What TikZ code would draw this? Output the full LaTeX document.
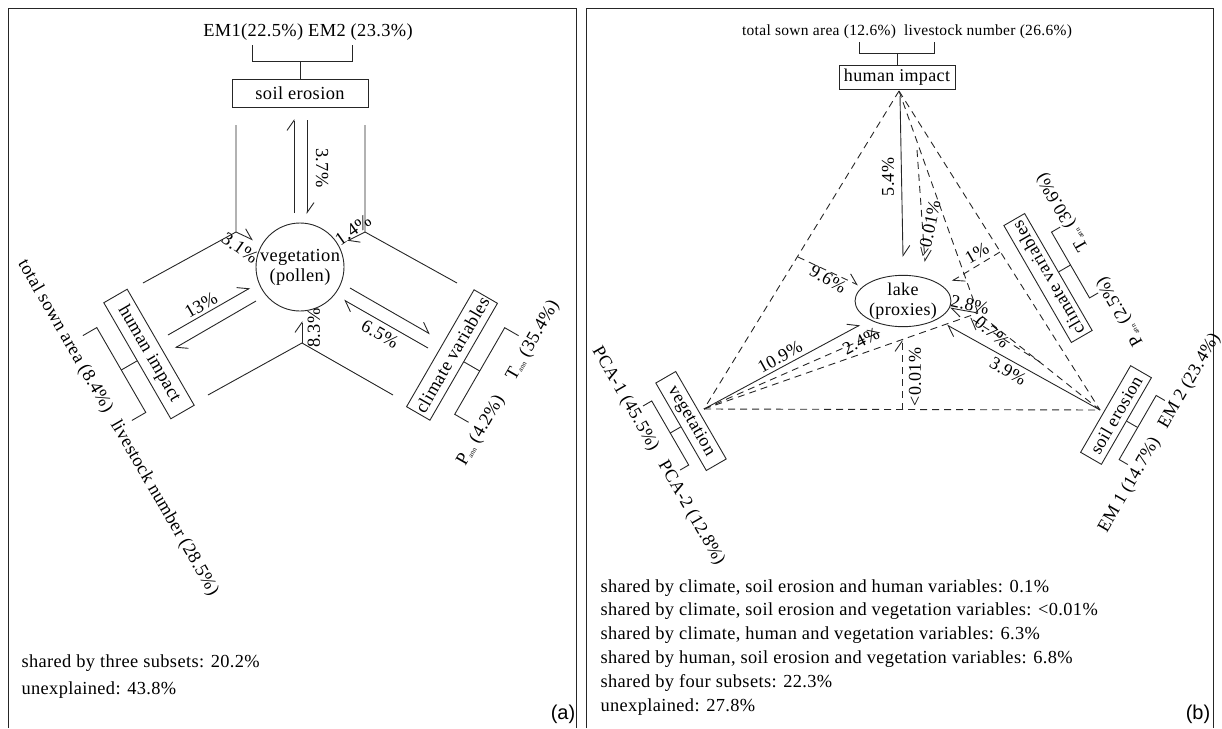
\documentclass[tikz,border=0pt]{standalone}
\usepackage{fontspec}
\setmainfont{Liberation Serif}[LetterSpace=2]
\newfontfamily\lblfont{Liberation Sans}
\usetikzlibrary{arrows.meta,shapes.geometric}
\newcommand\sbs[1]{\raisebox{-1.5pt}{\fontsize{7}{7}\selectfont #1}}
\tikzset{
  ln/.style={line width=0.9pt, draw=black!85},
  dsh/.style={ln, dash pattern=on 7pt off 5pt},
  harp/.style={-{Straight Barb[harpoon,length=10pt,width=14pt]}},
  fa/.style={font=\fontsize{18.4}{20}\selectfont},
  fb/.style={font=\fontsize{18}{20}\selectfont},
  fbtop/.style={font=\fontsize{15.5}{20}\selectfont},
  fbt/.style={font=\fontsize{18.4}{20}\selectfont},
  boxx/.style={draw=black!85, line width=0.9pt, inner sep=0pt},
}
\begin{document}
\begin{tikzpicture}[x=1pt,y=-1pt]
\useasboundingbox (0,0) rectangle (1222,728);
% frames
\draw[ln] (8,728) -- (8,8) -- (576,8) -- (576,728);
\draw[ln] (586,728) -- (586,8) -- (1213,8) -- (1213,728);

%================ panel (a)
\begin{scope}[fa]
\node[boxx, minimum width=136pt, minimum height=28pt] (soilA) at (300,93) {soil erosion};
\node (emA) at (308,32) {EM1(22.5\%) EM2 (23.3\%)};
\draw[ln] (252,45) -- (252,61) -- (352,61) -- (352,45);
\draw[ln] (soilA.north) -- (300,61);
\node[circle, draw=black!85, line width=0.9pt, minimum size=88pt, inner sep=0pt, align=center] (vegA) at (300,267) {vegetation\\(pollen)};

\draw[ln,harp] (294,213) -- (294,119);
\draw[ln,harp] (307,120) -- (307,214);
\node[rotate=-90] (l37) at (322,168) {3.7\%};

\coordinate (P1) at (236,232);
\coordinate (P2) at (365,232);
\coordinate (P3) at (302,343);
\draw[ln] (236,125) -- (P1) -- (143,283);
\draw[ln,harp] (P1) -- (253,240);
\node[rotate=-35] (l31) at (240,248) {3.1\%};
\draw[ln] (365,125) -- (P2) -- (457,283);
\draw[ln,harp] (P2) -- (347,241);
\node[rotate=35] (l14) at (353,230) {1.4\%};

\draw[ln,harp] (168,335) -- (250,288);
\node[rotate=30] (l13) at (201,305) {13\%};
\draw[ln,harp] (256,301) -- (175,348);

\draw[ln] (208,395) -- (P3) -- (393,395);
\draw[ln,harp] (P3) -- (302,321);
\node[rotate=90] (l83) at (314,328) {8.3\%};

\draw[ln,harp] (350,288) -- (430,334);
\draw[ln,harp] (428,348) -- (344,300);
\node[rotate=-30] (l65) at (380,334) {6.5\%};

\begin{scope}[shift={(149,354)}, rotate=-60, transform shape]
\node[boxx, minimum width=134pt, minimum height=27pt] (humA) at (0,0) {human impact};
\draw[ln] (-49,48) -- (-49,32) -- (49,32) -- (49,48);
\draw[ln] (humA.south) -- (0,32);
\node (tsA) at (-57,64) {total sown area (8.4\%)};
\node (lnA) at (141,64) {livestock number (28.5\%)};
\end{scope}

\begin{scope}[shift={(452,355)}, rotate=60, transform shape]
\node[boxx, minimum width=135pt, minimum height=27pt] (cliA) at (0,0) {climate variables};
\draw[ln] (-50,48) -- (-50,32) -- (50,32) -- (50,48);
\draw[ln] (cliA.south) -- (0,32);
\node (paA) at (-51,63) {P\sbs{ann} (4.2\%)};
\node (taA) at (53,63) {T\sbs{ann} (35.4\%)};
\end{scope}

\node[anchor=west] (sa) at (18,663) {shared by three subsets: 20.2\%};
\node[anchor=west] (ua) at (18,690) {unexplained: 43.8\%};
\end{scope}
\node (tagA) at (563,714) {\lblfont\fontsize{20}{20}\selectfont (a)};

%================ panel (b)
\begin{scope}[fb]
\node[boxx, minimum width=116pt, minimum height=24pt] (humB) at (897,77) {human impact};
\draw[ln] (859,42) -- (859,53) -- (934,53) -- (934,42);
\draw[ln] (humB.north) -- (897,53);
\node[fbtop] (tsB) at (819,32) {total sown area (12.6\%)};
\node[fbtop] (lnB) at (988,32) {livestock number (26.6\%)};

\node[ellipse, draw=black!85, line width=0.9pt, minimum width=91pt, minimum height=48pt, inner sep=0pt, align=center] (lake) at (903,301) {lake\\(proxies)};

\begin{scope}[shift={(691,421)}, rotate=-60, transform shape]
\node[boxx, minimum width=101pt, minimum height=23pt] (vegB) at (0,0) {vegetation};
\draw[ln] (-37,34) -- (-37,24) -- (37,24) -- (37,34);
\draw[ln] (vegB.south) -- (0,24);
\node (pc1) at (-52,46) {PCA-1 (45.5\%)};
\node (pc2) at (80,46) {PCA-2 (12.8\%)};
\end{scope}

\begin{scope}[shift={(1116,415)}, rotate=60, transform shape]
\node[boxx, minimum width=100pt, minimum height=24pt] (soilB) at (0,0) {soil erosion};
\draw[ln] (-37,35) -- (-37,25) -- (37,25) -- (37,35);
\draw[ln] (soilB.south) -- (0,25);
\node (em1) at (-54,47) {EM 1 (14.7\%)};
\node (em2) at (66,47) {EM 2 (23.4\%)};
\end{scope}

\begin{scope}[shift={(1048,278)}, rotate=120, transform shape]
\node[boxx, minimum width=135pt, minimum height=24pt] (cliB) at (0,0) {climate variables};
\draw[ln] (-38,36) -- (-38,26) -- (38,26) -- (38,36);
\draw[ln] (cliB.south) -- (0,26);
\node (tb) at (50,46) {T\sbs{ann} (30.6\%)};
\node (pb) at (-65,46) {P\sbs{ann} (2.5\%)};
\end{scope}

\coordinate (H) at (899,91);
\coordinate (V) at (704,409);
\coordinate (S) at (1100,410);
\coordinate (C) at (978,313);
\draw[dsh] (H) -- (V);
\draw[dsh] (H) -- (S);
\draw[dsh] (V) -- (S);
\draw[dsh] (H) -- (C);
\draw[dsh] (V) -- (C);
\draw[dsh] (S) -- (C);

\draw[ln,harp] (900,96) -- (903,257);
\node[rotate=90] (l54) at (888,177) {5.4\%};
\draw[ln,harp] (V) -- (860,325);
\node[rotate=29] (l109) at (780,357) {10.9\%};
\draw[ln,harp] (S) -- (947,325);
\node[rotate=-30] (l39) at (1008,371) {3.9\%};
\draw[ln,harp] (C) -- (950,308);
\node[rotate=-12] (l28) at (970,305) {2.8\%};

\draw[dsh,harp] (798,257) -- (858,285);
\node[rotate=-30] (l96) at (828,279) {9.6\%};
\draw[dsh,harp] (902,410) -- (902,340);
\node[rotate=90] (l001a) at (915,377) {<0.01\%};
\draw[dsh,harp] (1000,252) -- (952,281);
\node[rotate=30] (l1) at (977,253) {1\%};
\draw[dsh,harp] (V) -- (880,332);
\node[rotate=28] (l24) at (861,341) {2.4\%};
\draw[dsh,harp] (917,150) -- (925,262);
\node[rotate=78] (l001b) at (929,229) {<0.01\%};
\draw[dsh,harp] (1040,362) -- (970,318);
\node[rotate=-40] (l07) at (992,332) {0.7\%};
\end{scope}

\begin{scope}[fbt]
\node[anchor=west] (t1) at (597,588) {shared by climate, soil erosion and human variables: 0.1\%};
\node[anchor=west] (t2) at (597,611) {shared by climate, soil erosion and vegetation variables: <0.01\%};
\node[anchor=west] (t3) at (597,635) {shared by climate, human and vegetation variables: 6.3\%};
\node[anchor=west] (t4) at (597,659) {shared by human, soil erosion and vegetation variables: 6.8\%};
\node[anchor=west] (t5) at (597,683) {shared by four subsets: 22.3\%};
\node[anchor=west] (t6) at (597,707) {unexplained: 27.8\%};
\end{scope}
\node (tagB) at (1198,714) {\lblfont\fontsize{20}{20}\selectfont (b)};
\end{tikzpicture}
\end{document}
